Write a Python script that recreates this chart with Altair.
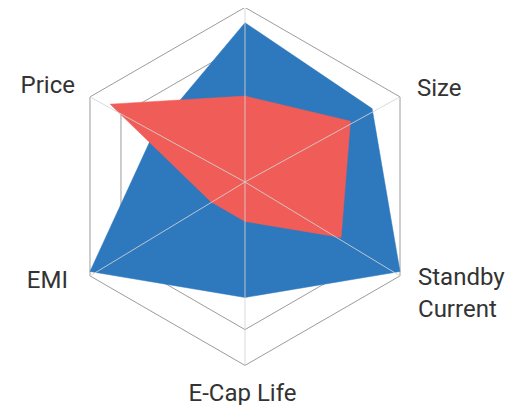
import altair as alt
import pandas as pd

# ---- data ----
axes = ["", "Size", "Standby\nCurrent", "E-Cap Life", "EMI", "Price"]
blue_values = [0.89, 0.82, 1.0, 0.645, 1.0, 0.58]
red_values = [0.48, 0.68, 0.62, 0.22, 0.22, 0.87]
grid_levels = [0.2, 0.4, 0.6, 0.8, 1.0]

BLUE = "#2e78bd"
RED = "#f05d58"
N = len(axes)

poly_rows = []
for name, vals in (("blue", blue_values), ("red", red_values)):
    for i, v in enumerate(vals):
        poly_rows.append({"series": name, "idx": i, "value": v})
poly_df = pd.DataFrame(poly_rows)

grid_df = pd.DataFrame([{"level": lv, "idx": i} for lv in grid_levels for i in range(N)])
axis_df = pd.DataFrame({"idx": list(range(N)), "axis": axes, "value": [1.0] * N})

xs = alt.Scale(domain=[-1.324, 1.514], nice=False, zero=False)
ys = alt.Scale(domain=[-1.3184, 0.9721], nice=False, zero=False)

ANG = f"datum.idx * 2 * PI / {N}"

grid = (
    alt.Chart(grid_df)
    .transform_calculate(ang=ANG)
    .transform_calculate(gx="datum.level * sin(datum.ang)", gy="datum.level * cos(datum.ang)")
    .mark_line(interpolate="linear-closed", stroke="#9c9c9c", strokeWidth=1, yOffset=4.4)
    .encode(
        x=alt.X("gx:Q", scale=xs, axis=None),
        y=alt.Y("gy:Q", scale=ys, axis=None),
        detail="level:N",
        order="idx:Q",
    )
)


def polygon(series, color):
    return (
        alt.Chart(poly_df)
        .transform_filter(f"datum.series == '{series}'")
        .transform_calculate(ang=ANG)
        .transform_calculate(px="datum.value * sin(datum.ang)", py="datum.value * cos(datum.ang)")
        .mark_line(interpolate="linear-closed", fill=color, stroke=color, strokeWidth=0.5)
        .encode(
            x=alt.X("px:Q", scale=xs, axis=None),
            y=alt.Y("py:Q", scale=ys, axis=None),
            order="idx:Q",
        )
    )


spokes = (
    alt.Chart(axis_df)
    .transform_calculate(ang=ANG)
    .transform_calculate(
        cx="0", cy="0",
        sx="datum.value * sin(datum.ang)", sy="datum.value * cos(datum.ang)",
    )
    .mark_rule(stroke="#d4d4d4", strokeWidth=1, opacity=0.85, y2Offset=4.4)
    .encode(
        x=alt.X("cx:Q", scale=xs, axis=None),
        y=alt.Y("cy:Q", scale=ys, axis=None),
        x2="sx:Q",
        y2="sy:Q",
    )
)


def label(idx, align, dx, dy):
    return (
        alt.Chart(axis_df)
        .transform_filter(f"datum.idx == {idx}")
        .transform_calculate(ang=ANG)
        .transform_calculate(lx="datum.value * sin(datum.ang)", ly="datum.value * cos(datum.ang)")
        .mark_text(
            align=align, baseline="alphabetic", dx=dx, dy=dy,
            font="Roboto", fontSize=24, color="#333333",
            lineBreak="\n", lineHeight=31.7,
        )
        .encode(
            x=alt.X("lx:Q", scale=xs, axis=None),
            y=alt.Y("ly:Q", scale=ys, axis=None),
            text="axis:N",
        )
    )


labels = [
    label(1, "left", 17, 3),
    label(2, "left", 18, 13.5),
    label(3, "center", -2.5, 40),
    label(4, "right", -22, 16),
    label(5, "right", -15, 0),
]

chart = (
    alt.layer(grid, polygon("blue", BLUE), polygon("red", RED), spokes, *labels)
    .properties(width=508, height=410, padding=0, autosize="none")
    .configure_view(stroke=None)
)

chart.save("out.html", embed_options={"renderer": "svg", "actions": False})
